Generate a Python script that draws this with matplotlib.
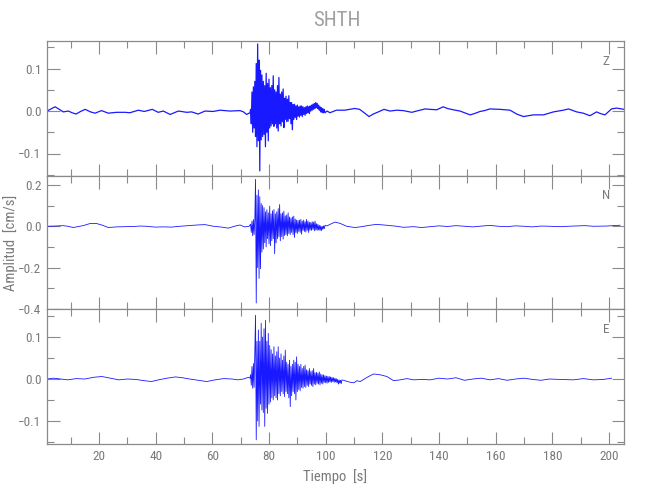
import numpy as np
import matplotlib
matplotlib.use("Agg")
import matplotlib.pyplot as plt
from matplotlib.ticker import MultipleLocator, FixedLocator

plt.rcParams['font.family'] = ['Roboto Condensed', 'Liberation Sans Narrow', 'Liberation Sans', 'DejaVu Sans']

# ---------------- data ----------------
station = "SHTH"
components = ["Z", "N", "E"]
burst_start = 73.5
burst_step = 0.25

z_pre_t = [1.7, 2.5, 4.5, 6.0, 7.4, 9.2, 10.5, 11.9, 13.5, 15.1, 17.0, 18.6, 20.9, 23.3, 26.2,
           29.2, 30.9, 33.9, 36.0, 38.8, 40.9, 42.7, 45.1, 48.0, 51.0, 52.7, 55.0, 57.4, 60.3,
           62.7, 66.2, 69.8, 71.0, 72.1, 73.3]
z_pre_v = [0.0, 0.003, 0.010, 0.004, -0.002, 0.0, -0.004, -0.007, -0.001, 0.004, -0.002, -0.005,
           0.001, -0.005, -0.003, -0.003, -0.004, 0.002, -0.001, 0.004, -0.003, 0.0, -0.008, 0.0,
           -0.003, -0.002, -0.007, 0.0, -0.001, 0.002, 0.0, 0.001, -0.002, -0.008, -0.004]
z_burst_v = [0.004, -0.030, 0.045, -0.050, 0.057, -0.040, 0.070, -0.060, 0.112, -0.084,
             0.158, -0.070, 0.120, -0.141, 0.096, -0.068, 0.085, -0.060, 0.070, -0.055,
             0.060, -0.084, 0.089, -0.050, 0.065, -0.070, 0.075, -0.040, 0.055, -0.035,
             0.060, -0.030, 0.083, -0.036, 0.050, -0.030, 0.045, -0.040, 0.060, -0.047,
             0.079, -0.030, 0.040, -0.035, 0.045, -0.025, 0.052, -0.039, 0.030, -0.020,
             0.035, -0.025, 0.028, -0.024, 0.036, -0.018, 0.020, -0.030, 0.020, -0.044,
             0.015, -0.020, 0.016, -0.015, 0.012, -0.020, 0.014, -0.012, 0.010, -0.014,
             0.012, -0.010, 0.012, -0.013, 0.010, -0.008, 0.008, -0.010, 0.010, -0.006,
             0.012, -0.004, 0.010, -0.006, 0.012, 0.000, 0.014, 0.002, 0.016, 0.004,
             0.018, 0.006, 0.020, 0.008, 0.018, 0.006, 0.014, 0.002, 0.010, -0.002,
             0.008, -0.004, 0.006, -0.004, 0.004, -0.004]
z_post_t = [100.5, 101.5, 103.8, 106.7, 110.3, 112.0, 113.8, 115.3, 116.8, 118.6, 120.6, 122.7,
            125.1, 127.4, 130.4, 132.1, 135.1, 136.8, 139.2, 141.5, 143.0, 145.0, 147.4, 149.0,
            151.0, 152.5, 154.5, 156.0, 158.0, 161.6, 165.1, 167.4, 169.8, 173.3, 175.0, 176.9,
            180.4, 183.9, 185.7, 188.6, 190.9, 193.3, 195.6, 197.0, 198.6, 200.9, 202.7, 205.3]
z_post_v = [0.0, -0.004, 0.002, 0.002, 0.006, 0.004, -0.005, -0.013, -0.007, -0.002, 0.004, 0.0,
            0.002, 0.001, -0.003, 0.0, 0.005, 0.004, 0.003, 0.010, 0.006, 0.003, 0.0, -0.004,
            -0.009, -0.006, -0.001, 0.001, 0.005, 0.004, 0.002, -0.007, -0.013, -0.009, -0.009,
            -0.009, -0.002, 0.002, 0.005, -0.002, -0.005, -0.011, -0.002, -0.006, -0.009, 0.005,
            0.007, 0.004]

n_pre_t = [1.7, 4.5, 7.4, 9.0, 10.9, 12.5, 14.4, 16.8, 19.2, 21.0, 23.3, 26.2, 29.0, 32.1, 34.5,
           36.8, 39.8, 42.7, 45.6, 48.6, 51.5, 54.5, 57.4, 60.4, 63.3, 65.6, 68.6, 69.8, 71.4, 73.0]
n_pre_v = [0.0, 0.001, 0.003, 0.0, -0.006, -0.002, 0.003, 0.013, 0.013, 0.006, -0.006, -0.003,
           -0.002, -0.001, 0.001, 0.0, -0.004, -0.003, -0.004, 0.0, 0.003, 0.006, 0.008, 0.0,
           -0.004, -0.009, 0.003, 0.006, -0.003, 0.0]
n_burst_v = [0.010, -0.030, 0.025, -0.046, 0.033, -0.040, 0.030, 0.227, -0.371, 0.150,
             -0.200, 0.176, -0.252, 0.143, -0.205, 0.110, -0.125, 0.100, -0.110, 0.090,
             -0.080, 0.070, -0.100, 0.080, -0.060, 0.065, -0.085, 0.097, -0.094, 0.060,
             -0.070, 0.075, -0.060, 0.081, -0.133, 0.060, -0.080, 0.070, -0.060, 0.085,
             -0.050, 0.105, -0.070, 0.060, -0.050, 0.065, -0.062, 0.073, -0.045, 0.050,
             -0.040, 0.055, -0.046, 0.065, -0.035, 0.045, -0.040, 0.040, -0.030, 0.045,
             -0.040, 0.049, -0.054, 0.035, -0.030, 0.030, -0.035, 0.028, -0.025, 0.030,
             -0.030, 0.033, -0.038, 0.025, -0.020, 0.030, -0.025, 0.022, -0.028, 0.033,
             -0.020, 0.025, -0.030, 0.020, -0.018, 0.018, -0.020, 0.022, -0.015, 0.020,
             -0.022, 0.025, -0.018, 0.012, -0.020, 0.010, -0.018, 0.005, -0.020, 0.002,
             -0.021, 0.000, -0.015, 0.002, -0.012, 0.004]
n_post_t = [100.5, 101.5, 103.3, 105.1, 107.4, 110.3, 112.7, 115.6, 118.0, 121.5, 125.1, 127.4,
            131.0, 133.9, 136.8, 140.0, 143.0, 146.0, 149.0, 152.0, 155.0, 158.0, 161.0, 164.0,
            167.0, 170.0, 173.0, 176.0, 179.0, 182.7, 187.4, 191.5, 194.5, 199.2, 203.9]
n_post_v = [0.002, 0.009, 0.020, 0.014, 0.0, -0.006, -0.002, 0.005, 0.009, 0.005, 0.0, -0.005,
            -0.002, -0.006, -0.002, 0.002, -0.001, 0.003, 0.0, -0.003, 0.001, 0.004, 0.0, -0.002,
            0.002, 0.0, -0.003, 0.001, 0.0, -0.002, 0.001, 0.003, 0.0, 0.001, 0.005]

e_pre_t = [1.7, 4.0, 6.5, 9.0, 12.0, 15.0, 18.0, 21.0, 24.0, 27.0, 30.0, 33.0, 36.0, 38.5, 41.0,
           44.0, 47.0, 49.5, 52.0, 55.0, 58.0, 61.0, 64.0, 67.0, 69.0, 71.0, 72.7, 73.3]
e_pre_v = [0.0, 0.002, 0.0, -0.002, 0.001, 0.0, 0.004, 0.006, 0.002, -0.002, 0.0, -0.001, -0.004,
           -0.006, -0.002, 0.002, 0.005, 0.003, 0.0, -0.003, -0.006, -0.002, 0.001, 0.0, -0.002,
           0.0, 0.004, 0.002]
e_burst_v = [0.010, -0.015, 0.030, -0.022, 0.037, -0.020, 0.060, 0.152, -0.145, 0.090,
             -0.100, 0.117, -0.113, 0.090, -0.060, 0.133, -0.074, 0.100, -0.080, 0.120,
             -0.113, 0.140, -0.070, 0.090, -0.082, 0.109, -0.060, 0.080, -0.055, 0.070,
             -0.045, 0.060, -0.050, 0.077, -0.040, 0.055, -0.045, 0.065, -0.050, 0.077,
             -0.035, 0.050, -0.040, 0.060, -0.030, 0.045, -0.035, 0.055, -0.042, 0.069,
             -0.030, 0.040, -0.035, 0.035, -0.045, 0.045, -0.066, 0.030, -0.040, 0.035,
             -0.030, 0.045, -0.035, 0.040, -0.050, 0.053, -0.030, 0.035, -0.025, 0.030,
             -0.028, 0.035, -0.020, 0.025, -0.022, 0.030, -0.018, 0.033, -0.020, 0.022,
             -0.015, 0.020, -0.018, 0.025, -0.012, 0.018, -0.015, 0.020, -0.018, 0.025,
             -0.012, 0.015, -0.014, 0.016, -0.010, 0.014, -0.012, 0.017, -0.014, 0.012,
             -0.010, 0.010, -0.012, 0.010, -0.008, 0.008, -0.009, 0.007, -0.010, 0.006,
             -0.008, 0.006, -0.007, 0.005, -0.008, 0.004, -0.006, 0.003, -0.008, 0.002,
             -0.007, 0.001, -0.009, -0.001, -0.012, -0.002, -0.010, -0.003, -0.011, -0.002]
e_post_t = [108.8, 110.0, 111.0, 112.2, 114.6, 116.9, 119.3, 121.6, 124.0, 126.3, 128.7, 131.0,
            134.0, 136.9, 140.0, 143.0, 146.0, 149.0, 152.0, 155.0, 158.0, 161.0, 164.0, 167.0,
            170.0, 173.0, 176.0, 179.0, 182.7, 187.4, 191.0, 194.5, 198.0, 200.9]
e_post_v = [-0.008, -0.009, -0.004, -0.006, 0.004, 0.012, 0.010, 0.006, -0.004, -0.002, 0.001,
            -0.002, -0.001, -0.002, 0.002, 0.0, 0.003, -0.003, 0.0, 0.002, -0.002, 0.001, -0.003,
            0.0, 0.002, -0.001, -0.003, 0.0, -0.001, -0.002, 0.001, -0.002, -0.001, 0.002]

x_limits = (1.65, 205.3)
y_limits = [(-0.153, 0.165), (-0.40, 0.243), (-0.155, 0.167)]
y_major = [[-0.1, 0.0, 0.1], [-0.4, -0.2, 0.0, 0.2], [-0.1, 0.0, 0.1]]
y_minor_step = [0.05, 0.1, 0.05]
y_ticklabels = [["\u22120.1", "0.0", "0.1"], ["\u22120.4", "\u22120.2", "0.0", "0.2"],
                ["\u22120.1", "0.0", "0.1"]]
x_major = [20, 40, 60, 80, 100, 120, 140, 160, 180, 200]


def build(pre_t, pre_v, burst_v, post_t, post_v):
    bt = burst_start + burst_step * np.arange(len(burst_v))
    t = np.concatenate([pre_t, bt, post_t])
    v = np.concatenate([pre_v, burst_v, post_v])
    return t, v


traces = [build(z_pre_t, z_pre_v, z_burst_v, z_post_t, z_post_v),
          build(n_pre_t, n_pre_v, n_burst_v, n_post_t, n_post_v),
          build(e_pre_t, e_pre_v, e_burst_v, e_post_t, e_post_v)]
line_widths = [0.9, 0.6, 0.6]

# ---------------- figure ----------------
W, H = 650, 500
fig = plt.figure(figsize=(6.5, 5.0), dpi=100)
gray = "#8a8a8a"
txtgray = "#7a7a7a"
left, right = 47 / W, 624 / W
edges = [41, 176, 309, 444]

for i in range(3):
    top = 1 - edges[i] / H
    bot = 1 - edges[i + 1] / H
    ax = fig.add_axes([left, bot, right - left, top - bot])
    t, v = traces[i]
    ax.plot(t, v, color="#0000ff", lw=line_widths[i], alpha=0.9)
    ax.set_xlim(*x_limits)
    ax.set_ylim(*y_limits[i])
    ax.xaxis.set_major_locator(FixedLocator(x_major))
    ax.xaxis.set_minor_locator(MultipleLocator(10))
    ax.yaxis.set_major_locator(FixedLocator(y_major[i]))
    ax.yaxis.set_minor_locator(MultipleLocator(y_minor_step[i]))
    ax.set_yticklabels(y_ticklabels[i])
    for s in ax.spines.values():
        s.set_color(gray)
        s.set_linewidth(0.9)
    ax.tick_params(which="both", direction="in", top=True, right=True, colors=gray,
                   labelcolor=txtgray, labelsize=9.5, width=0.8, pad=4)
    ax.tick_params(which="major", length=9)
    ax.tick_params(which="minor", length=5)
    if i < 2:
        ax.tick_params(labelbottom=False)
    ax.text(0.969, 0.85, components[i], transform=ax.transAxes, ha="center", va="center",
            color=txtgray, fontsize=9.5)
    if i == 2:
        ax.set_xlabel("Tiempo  [s]", color=txtgray, fontsize=10.5, labelpad=5)

fig.text(337 / W, 1 - 21 / H, station, ha="center", va="center", color="#a0a0a0", fontsize=15)
fig.text(11 / W, 1 - 243 / H, "Amplitud  [cm/s]", rotation=90, ha="center", va="center",
         color=txtgray, fontsize=10.5)

fig.savefig("out.png", dpi=100, facecolor="white")
